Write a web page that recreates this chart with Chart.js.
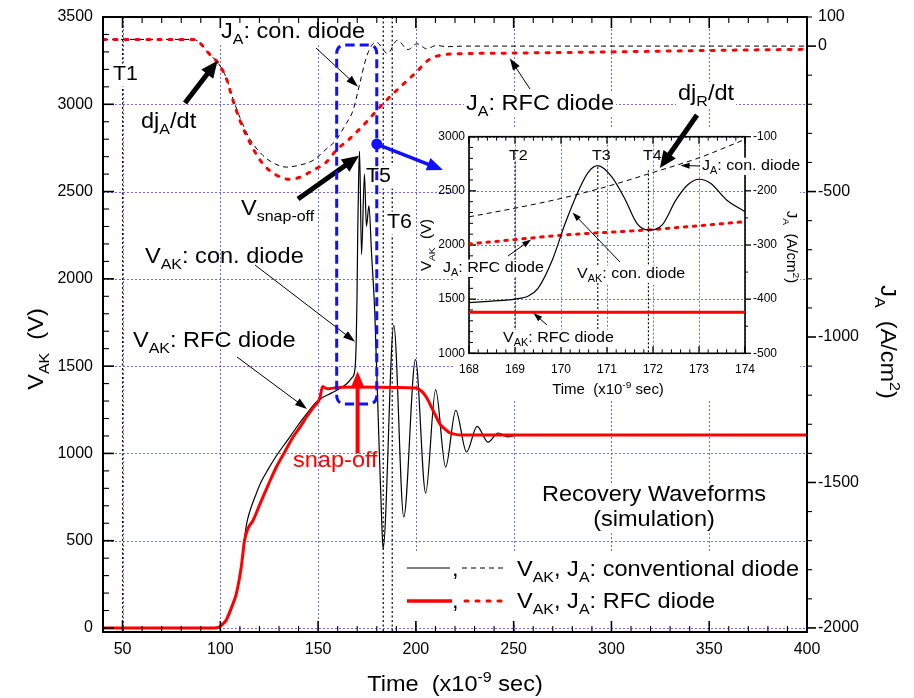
<!DOCTYPE html>
<html>
<head>
<meta charset="utf-8">
<script src="https://cdn.jsdelivr.net/npm/chart.js@4.4.1/dist/chart.umd.min.js"></script>
<style>
  html, body { margin: 0; padding: 0; background: #fff; }
  #wrap { position: relative; width: 914px; height: 698px; }
  #main { position: absolute; left: 0; top: 0; }
  #inset { position: absolute; left: 410px; top: 100px; }
</style>
</head>
<body>
<div id="wrap">
  <canvas id="main" width="914" height="698"></canvas>
  <canvas id="inset" width="400" height="305"></canvas>
</div>
<script>
// ---- recovery waveforms, time in ns ----
// V_AK of the conventional diode (V)
const tVcon = [40, 97, 99, 101, 103, 105, 107, 109, 110.7, 112.4, 113.5, 115, 118.4, 121, 124.5, 128.6, 134, 139, 144, 149,
  153, 156, 160, 164.5, 167, 168.7, 169.1, 169.5, 169.9, 170.3, 170.8, 171.2, 172.2, 173.7, 174.7, 176, 177.3, 179, 181, 182.5,
  183.2, 188.7, 193.8, 199.8, 205, 210.1, 215.2, 220.4, 225.9, 231.3, 236.9, 242, 247, 252, 400];
const vCon = [0, 0, 3, 15, 45, 85, 150, 240, 349, 515, 600, 665, 770, 840, 910, 985, 1070, 1150, 1225, 1293,
  1325, 1341, 1365, 1398, 1430, 1470, 1520, 1650, 1900, 2300, 2620, 2730, 2140, 2600, 2300, 2420, 2150, 1800, 1110, 620,
  455, 1734, 636, 1537, 773, 1365, 922, 1247, 1008, 1155, 1065, 1117, 1095, 1105, 1105];
// V_AK of the RFC diode (V)
const tVrfc = [40, 97, 99, 100.5, 103, 104.8, 106.5, 108.2, 110.7, 112.4, 114.1, 116.7, 121, 124.5, 128.6, 133, 137.1, 141, 144, 148,
  150.8, 152.3, 153.5, 155, 160, 170, 190, 200.3, 203, 205.4, 208, 210.5, 212.5, 214.8, 217, 219, 224, 400];
const vRfc = [0, 0, 3, 15, 45, 92, 140, 197, 349, 502, 569, 616, 730, 820, 921, 1010, 1093, 1155, 1207, 1270,
  1313, 1384, 1376, 1370, 1378, 1380, 1378, 1375, 1355, 1322, 1265, 1207, 1165, 1141, 1120, 1112, 1105, 1105];
// J_A of the conventional diode (A/cm2)
const tJcon = [40, 86, 88, 90, 92.8, 95.5, 98.5, 103, 106.4, 110, 115, 121.8, 128, 133.8, 140, 147.4, 154, 159.3, 164, 167.8,
  171.3, 174.7, 178, 179.8, 185.5, 190.5, 196, 200.6, 205.4, 210.5, 216, 225, 400];
const jCon = [23, 23, 19, 8, -15, -35, -55, -108, -180, -245, -318, -376, -405, -416, -410, -393, -355, -322, -270, -222,
  -129, -38, 8, 13, -25, 20, -12, 8, -9, 2, -2, 0, 0];
// J_A of the RFC diode (A/cm2)
const tJrfc = [40, 86, 88, 90, 92.8, 95.5, 98.5, 103, 106.4, 110, 115, 121.8, 128.6, 135.5, 141, 147.4, 154.2, 159.3, 166.2, 174.7,
  181.5, 187.5, 194, 200.3, 206.2, 212.2, 224, 250, 300, 350, 400];
const jRfc = [23, 23, 19, 8, -15, -35, -55, -110, -185, -255, -330, -405, -443, -458, -450, -427, -399, -358, -318, -261,
  -210, -169, -128, -89, -49, -32, -26, -24, -20, -15, -11];

// ---- close-up, 168-174 ns ----
const tInVcon = [168, 168.5, 169, 169.3, 169.5, 169.8, 170.1, 170.4, 170.6, 170.8, 171.1, 171.4, 171.65, 171.9, 172.2, 172.5, 172.75, 173, 173.25, 173.6, 174];
const inVcon = [1467, 1482, 1501, 1532, 1600, 1850, 2210, 2520, 2675, 2732, 2631, 2416, 2200, 2139, 2185, 2416, 2554, 2607, 2570, 2416, 2308];
const tInVrfc = [168, 174];
const inVrfc = [1380, 1380];
const tInJcon = [168, 169, 170, 171, 172, 173, 174];
const inJcon = [-248, -232, -214, -192, -166, -139, -105];
const tInJrfc = [168, 169, 170, 171.9, 174];
const inJrfc = [-298, -290, -282, -272, -257];

// ---- tick labels ----
const xTickVals = [50, 100, 150, 200, 250, 300, 350, 400];
const vTickVals = [0, 500, 1000, 1500, 2000, 2500, 3000, 3500];
const jTickVals = [100, 0, -500, -1000, -1500, -2000];
const inXTickVals = [168, 169, 170, 171, 172, 173, 174];
const inVTickVals = [1000, 1500, 2000, 2500, 3000];
const inJTickVals = [-100, -200, -300, -400, -500];

const FONT = '"Liberation Sans", Arial, Helvetica, sans-serif';
const SX = 1.07;
const RED = '#ff0000';
const BLUE = '#1010ff';
const GRID = 'rgba(80,80,255,0.85)';

const pts = (ts, vs) => ts.map((t, i) => ({x: t, y: vs[i]}));

// "V_{AK}" -> runs with subscript / superscript flags
function runsOf(str) {
  const out = [];
  const re = /([_^])\{([^}]*)\}/g;
  let last = 0, m;
  while ((m = re.exec(str))) {
    if (m.index > last) out.push({t: str.slice(last, m.index)});
    out.push({t: m[2], sub: m[1] === '_', sup: m[1] === '^'});
    last = re.lastIndex;
  }
  if (last < str.length) out.push({t: str.slice(last)});
  return out;
}

function rich(ctx, x, y, str, size, o = {}) {
  const sx = o.sx || SX;
  const parts = runsOf(str).map(r => {
    const fs = r.sub || r.sup ? size * 0.68 : size;
    ctx.font = fs + 'px ' + FONT;
    return {t: r.t, fs, dy: r.sub ? size * 0.28 : r.sup ? -size * 0.42 : 0, w: ctx.measureText(r.t).width * sx};
  });
  const total = parts.reduce((s, p) => s + p.w, 0);
  let cx = o.align === 'center' ? x - total / 2 : o.align === 'right' ? x - total : x;
  if (o.bg) {
    ctx.fillStyle = '#fff';
    ctx.fillRect(cx - 2, y - size * 0.82, total + 4, size * 1.15);
  }
  ctx.fillStyle = o.color || '#000';
  ctx.textAlign = 'left';
  ctx.textBaseline = 'alphabetic';
  for (const p of parts) {
    ctx.save();
    ctx.font = p.fs + 'px ' + FONT;
    ctx.translate(cx, y + p.dy);
    ctx.scale(sx, 1);
    ctx.fillText(p.t, 0, 0);
    ctx.restore();
    cx += p.w;
  }
}

function line(ctx, x1, y1, x2, y2) {
  ctx.beginPath(); ctx.moveTo(x1, y1); ctx.lineTo(x2, y2); ctx.stroke();
}

function arrow(ctx, x1, y1, x2, y2, o = {}) {
  const w = o.w || 1, head = o.head || 12, hw = o.hw || 7, color = o.color || '#000';
  const a = Math.atan2(y2 - y1, x2 - x1);
  const bx = x2 - head * Math.cos(a), by = y2 - head * Math.sin(a);
  ctx.save();
  ctx.setLineDash([]);
  ctx.strokeStyle = color; ctx.fillStyle = color; ctx.lineWidth = w;
  line(ctx, x1, y1, bx + Math.cos(a), by + Math.sin(a));
  ctx.beginPath();
  ctx.moveTo(x2, y2);
  ctx.lineTo(bx + hw / 2 * Math.sin(a), by - hw / 2 * Math.cos(a));
  ctx.lineTo(bx - hw / 2 * Math.sin(a), by + hw / 2 * Math.cos(a));
  ctx.closePath(); ctx.fill();
  ctx.restore();
}

function roundBox(ctx, x1, y1, x2, y2, r) {
  ctx.beginPath();
  ctx.moveTo(x1 + r, y1); ctx.lineTo(x2 - r, y1); ctx.quadraticCurveTo(x2, y1, x2, y1 + r);
  ctx.lineTo(x2, y2 - r); ctx.quadraticCurveTo(x2, y2, x2 - r, y2);
  ctx.lineTo(x1 + r, y2); ctx.quadraticCurveTo(x1, y2, x1, y2 - r);
  ctx.lineTo(x1, y1 + r); ctx.quadraticCurveTo(x1, y1, x1 + r, y1);
  ctx.closePath(); ctx.stroke();
}

function plainText(ctx, text, x, y, size, align, base) {
  ctx.font = size + 'px ' + FONT;
  ctx.fillStyle = '#000';
  ctx.textAlign = align; ctx.textBaseline = base;
  ctx.fillText(text, x, y);
}

// ---------- main plot decorations ----------
const mainDeco = {
  id: 'mainDeco',
  beforeDatasetsDraw(chart) {
    const {ctx, chartArea: a, scales: {x, y}} = chart;
    const X = t => x.getPixelForValue(t), Y = v => y.getPixelForValue(v);
    ctx.save();
    ctx.strokeStyle = GRID; ctx.lineWidth = 1; ctx.setLineDash([2, 2]);
    for (const t of xTickVals) { const px = Math.round(X(t)) + 0.5; line(ctx, px, a.top, px, a.bottom); }
    for (const v of vTickVals) { const py = Math.round(Y(v)) + 0.5; line(ctx, a.left, py, a.right, py); }

    // T1, T5, T6 time markers
    ctx.strokeStyle = '#000'; ctx.lineWidth = 1.2; ctx.setLineDash([2, 2.5]);
    for (const t of [50, 183.3, 187.9]) { const px = X(t); line(ctx, px, a.top, px, a.bottom); }
    ctx.setLineDash([]);

    rich(ctx, 113, 80, 'T1', 20, {bg: true});
    rich(ctx, 366, 182, 'T5', 20, {bg: true});
    rich(ctx, 387, 228, 'T6', 20, {bg: true});
    rich(ctx, 221, 38, 'J_{A}: con. diode', 22, {bg: true});
    rich(ctx, 466, 110, 'J_{A}: RFC diode', 22, {bg: true});
    rich(ctx, 678, 100, 'dj_{R}/dt', 22, {bg: true});
    rich(ctx, 654, 501, 'Recovery Waveforms', 22, {bg: true, align: 'center'});
    rich(ctx, 654, 526, '(simulation)', 22, {bg: true, align: 'center'});

    // legend
    ctx.fillStyle = '#fff'; ctx.fillRect(400, 551, 404, 72);
    ctx.strokeStyle = '#000'; ctx.lineWidth = 1.2; line(ctx, 407, 568, 450, 568);
    ctx.lineWidth = 1; ctx.setLineDash([5, 4]); line(ctx, 462, 568, 505, 568);
    ctx.setLineDash([]);
    ctx.strokeStyle = RED; ctx.lineWidth = 3.5; line(ctx, 407, 601, 452, 601);
    ctx.lineWidth = 3; ctx.lineCap = 'round'; ctx.setLineDash([3, 8]); line(ctx, 465, 601, 505, 601);
    ctx.setLineDash([]); ctx.lineCap = 'butt';
    rich(ctx, 452, 576, ',', 22);
    rich(ctx, 452, 608, ',', 22);
    rich(ctx, 517, 576, 'V_{AK}, J_{A}: conventional diode', 22);
    rich(ctx, 517, 608, 'V_{AK}, J_{A}: RFC diode', 22);
    ctx.restore();
  },
  afterDatasetsDraw(chart) {
    const {ctx, chartArea: a, scales: {x, y, y2}} = chart;
    const X = t => x.getPixelForValue(t), Y = v => y.getPixelForValue(v), J = j => y2.getPixelForValue(j);
    ctx.save();
    ctx.setLineDash([]);

    // frame and ticks (inward on left/top/bottom, outward on the right)
    ctx.strokeStyle = '#000'; ctx.lineWidth = 2;
    ctx.strokeRect(a.left, a.top, a.right - a.left, a.bottom - a.top);
    for (let t = 40; t <= 400; t += 10) {
      const major = t % 50 === 0, L = major ? 11 : 6, px = X(t);
      ctx.lineWidth = major ? 1.6 : 1.1;
      line(ctx, px, a.bottom, px, a.bottom - L);
      line(ctx, px, a.top, px, a.top + L);
    }
    for (let v = 0; v <= 3500; v += 100) {
      const major = v % 500 === 0, py = Y(v);
      ctx.lineWidth = major ? 1.6 : 1.1;
      line(ctx, a.left, py, a.left + (major ? 11 : 6), py);
    }
    for (let j = -2000; j <= 100; j += 100) {
      const major = j % 500 === 0, py = J(j);
      ctx.lineWidth = major ? 1.6 : 1.1;
      line(ctx, a.right, py, a.right + (major ? 9 : 5), py);
    }

    for (const t of xTickVals) plainText(ctx, String(t), X(t), 654, 16, 'center', 'alphabetic');
    for (const v of vTickVals) plainText(ctx, String(v), 93, Y(v), 16, 'right', 'middle');
    for (const j of jTickVals) plainText(ctx, String(j), 818, J(j), 16, 'left', 'middle');

    rich(ctx, 455, 691, 'Time  (x10^{-9} sec)', 22, {align: 'center'});
    ctx.save(); ctx.translate(43, 349); ctx.rotate(-Math.PI / 2);
    rich(ctx, 0, 0, 'V_{AK}  (V)', 22, {align: 'center'}); ctx.restore();
    ctx.save(); ctx.translate(881, 342); ctx.rotate(Math.PI / 2);
    rich(ctx, 0, 0, 'J_{A}  (A/cm^{2})', 22, {align: 'center'}); ctx.restore();

    // annotations
    rich(ctx, 141, 128, 'dj_{A}/dt', 22);
    rich(ctx, 241, 215, 'V_{snap-off}', 22);
    rich(ctx, 145, 263, 'V_{AK}: con. diode', 22);
    rich(ctx, 133, 347, 'V_{AK}: RFC diode', 22);
    rich(ctx, 293, 467, 'snap-off', 22, {color: RED});

    arrow(ctx, 185, 103, X(98.6), J(-50), {w: 5, head: 17, hw: 15});
    arrow(ctx, 298, 199, X(170.9), Y(2705), {w: 5, head: 17, hw: 15});
    arrow(ctx, 316, 48, X(170.4), J(-140), {w: 1, head: 12, hw: 8});
    arrow(ctx, 255, 265, X(168.9), Y(1640), {w: 1, head: 12, hw: 8});
    arrow(ctx, 237, 357, X(144.3), Y(1255), {w: 1, head: 12, hw: 8});
    arrow(ctx, 530, 89, X(248), J(-42), {w: 1, head: 12, hw: 8});
    arrow(ctx, X(170.2), Y(1000), X(170.2), Y(1470), {w: 4, head: 17, hw: 14, color: RED});

    // dashed window around the snap-off spike
    ctx.strokeStyle = BLUE; ctx.lineWidth = 3; ctx.setLineDash([9, 5]);
    roundBox(ctx, X(159.5), Y(3340), X(180), Y(1283), 9);
    ctx.setLineDash([]);
    const dx = X(180), dy = Y(2772);
    ctx.fillStyle = BLUE; ctx.beginPath(); ctx.arc(dx, dy, 5.5, 0, Math.PI * 2); ctx.fill();
    arrow(ctx, dx, dy, 443, 170, {w: 3.5, head: 16, hw: 13, color: BLUE});
    ctx.restore();
  }
};

// ---------- close-up decorations (drawn in page coordinates) ----------
const OX = 410, OY = 100;
const insetDeco = {
  id: 'insetDeco',
  beforeDatasetsDraw(chart) {
    const {ctx, chartArea: c, scales: {x, y, y2}} = chart;
    const X = t => x.getPixelForValue(t) + OX, Y = v => y.getPixelForValue(v) + OY, J = j => y2.getPixelForValue(j) + OY;
    const a = {left: c.left + OX, right: c.right + OX, top: c.top + OY, bottom: c.bottom + OY};
    ctx.save();
    ctx.translate(-OX, -OY);
    ctx.fillStyle = '#fff'; ctx.fillRect(455, 127, 345, 273);

    ctx.strokeStyle = GRID; ctx.lineWidth = 1; ctx.setLineDash([2, 2]);
    for (const t of inXTickVals) { const px = Math.round(X(t)) + 0.5; line(ctx, px, a.top, px, a.bottom); }
    for (const v of inVTickVals) { const py = Math.round(Y(v)) + 0.5; line(ctx, a.left, py, a.right, py); }

    // T2, T3, T4 markers
    ctx.strokeStyle = '#000'; ctx.lineWidth = 1.1; ctx.setLineDash([2, 2]);
    line(ctx, X(169), Y(2766), X(169), Y(1234));
    line(ctx, X(170.8), Y(2720), X(170.8), Y(1215));
    line(ctx, X(171.9), Y(2690), X(171.9), Y(1000));
    ctx.setLineDash([]);

    ctx.strokeStyle = '#000'; ctx.lineWidth = 1.6;
    ctx.strokeRect(a.left, a.top, a.right - a.left, a.bottom - a.top);
    for (let i = 0; i <= 30; i++) {
      const t = 168 + i * 0.2, major = i % 5 === 0, L = major ? 7 : 4, px = X(t);
      ctx.lineWidth = major ? 1.3 : 1;
      line(ctx, px, a.bottom, px, a.bottom - L);
      line(ctx, px, a.top, px, a.top + L);
    }
    for (let v = 1000; v <= 3000; v += 100) {
      const major = v % 500 === 0;
      ctx.lineWidth = major ? 1.3 : 1;
      line(ctx, a.left, Y(v), a.left + (major ? 7 : 4), Y(v));
    }
    for (let j = -500; j <= -100; j += 50) {
      const major = j % 100 === 0;
      ctx.lineWidth = major ? 1.3 : 1;
      line(ctx, a.right, J(j), a.right + (major ? 6 : 3), J(j));
    }

    for (const t of inXTickVals) plainText(ctx, String(t), X(t), 373, 12, 'center', 'alphabetic');
    for (const v of inVTickVals) plainText(ctx, String(v), 465, Y(v), 12, 'right', 'middle');
    for (const j of inJTickVals) plainText(ctx, String(j), 753, J(j), 12, 'left', 'middle');

    rich(ctx, 608, 394, 'Time  (x10^{-9} sec)', 14, {align: 'center'});
    ctx.save(); ctx.translate(431, 245); ctx.rotate(-Math.PI / 2);
    rich(ctx, 0, 0, 'V_{AK}  (V)', 14, {align: 'center'}); ctx.restore();
    ctx.save(); ctx.translate(787, 247); ctx.rotate(Math.PI / 2);
    rich(ctx, 0, 0, 'J_{A}  (A/cm^{2})', 14, {align: 'center'}); ctx.restore();

    rich(ctx, 509, 160, 'T2', 15);
    rich(ctx, 592, 160, 'T3', 15);
    rich(ctx, 643, 160, 'T4', 15);
    rich(ctx, 702, 170, 'J_{A}: con. diode', 15, {bg: true});
    rich(ctx, 443, 272, 'J_{A}: RFC diode', 15, {bg: true});
    rich(ctx, 577, 278, 'V_{AK}: con. diode', 15, {bg: true});
    rich(ctx, 503, 342, 'V_{AK}: RFC diode', 15, {bg: true});
    ctx.restore();
  },
  afterDatasetsDraw(chart) {
    const {ctx, scales: {x, y, y2}} = chart;
    const X = t => x.getPixelForValue(t) + OX, Y = v => y.getPixelForValue(v) + OY, J = j => y2.getPixelForValue(j) + OY;
    ctx.save();
    ctx.translate(-OX, -OY);
    arrow(ctx, 700, 166, X(172.6), J(-153), {w: 1, head: 9, hw: 6});
    arrow(ctx, 508, 256, X(169.35), J(-290), {w: 1, head: 9, hw: 6});
    arrow(ctx, 620, 262, X(170.25), Y(2300), {w: 1, head: 9, hw: 6});
    arrow(ctx, 547, 325, X(169.4), Y(1372), {w: 1, head: 9, hw: 6});
    arrow(ctx, 697, 115, X(172.15), J(-158), {w: 5, head: 17, hw: 15});
    ctx.restore();
  }
};

new Chart(document.getElementById('main'), {
  type: 'line',
  data: {
    datasets: [
      {data: pts(tVrfc, vRfc), yAxisID: 'y', borderColor: RED, borderWidth: 3},
      {data: pts(tVcon, vCon), yAxisID: 'y', borderColor: '#000', borderWidth: 1.2},
      {data: pts(tJrfc, jRfc), yAxisID: 'y2', borderColor: RED, borderWidth: 3, borderDash: [3, 8], borderCapStyle: 'round'},
      {data: pts(tJcon, jCon), yAxisID: 'y2', borderColor: '#000', borderWidth: 1, borderDash: [5, 4]}
    ]
  },
  options: {
    responsive: false,
    animation: false,
    devicePixelRatio: 1,
    layout: {padding: {left: 103, right: 107, top: 17, bottom: 66}},
    elements: {point: {radius: 0}, line: {cubicInterpolationMode: 'monotone', fill: false}},
    scales: {
      x: {type: 'linear', min: 40, max: 400, display: false},
      y: {min: -23, max: 3500, display: false},
      y2: {min: -2014, max: 100, display: false}
    },
    plugins: {legend: {display: false}, tooltip: {enabled: false}}
  },
  plugins: [mainDeco]
});

new Chart(document.getElementById('inset'), {
  type: 'line',
  data: {
    datasets: [
      {data: pts(tInVrfc, inVrfc), yAxisID: 'y', borderColor: RED, borderWidth: 3},
      {data: pts(tInVcon, inVcon), yAxisID: 'y', borderColor: '#000', borderWidth: 1.2},
      {data: pts(tInJrfc, inJrfc), yAxisID: 'y2', borderColor: RED, borderWidth: 3, borderDash: [2.5, 6.5], borderCapStyle: 'round'},
      {data: pts(tInJcon, inJcon), yAxisID: 'y2', borderColor: '#000', borderWidth: 1, borderDash: [5, 4]}
    ]
  },
  options: {
    responsive: false,
    animation: false,
    devicePixelRatio: 1,
    layout: {padding: {left: 59, right: 65, top: 36.7, bottom: 51.7}},
    elements: {point: {radius: 0}, line: {cubicInterpolationMode: 'monotone', fill: false}},
    scales: {
      x: {type: 'linear', min: 168, max: 174, display: false},
      y: {min: 1000, max: 3000, display: false},
      y2: {min: -500, max: -100, display: false}
    },
    plugins: {legend: {display: false}, tooltip: {enabled: false}}
  },
  plugins: [insetDeco]
});
</script>
</body>
</html>
